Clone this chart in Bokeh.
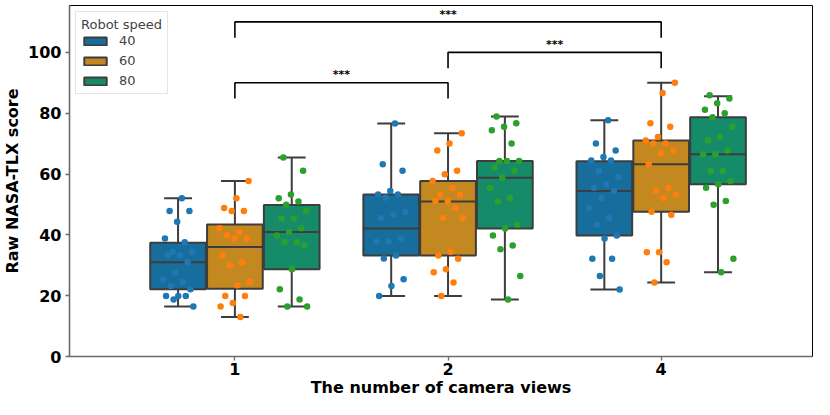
import numpy as np
from bokeh.plotting import figure
from bokeh.models import ColumnDataSource, Range1d, Legend, LegendItem, FixedTicker
from bokeh.embed import file_html
from bokeh.resources import INLINE
from bokeh.core.properties import value

# ---------------- data ----------------
categories = ["1", "2", "4"]           # number of camera views
speeds = ["40", "60", "80"]            # robot speed (hue)

# box statistics, one list per speed, ordered by category
whisker_low_40 = [16.4, 19.9, 22.0]
q1_40 = [22.1, 33.2, 39.8]
median_40 = [31.0, 42.1, 54.4]
q3_40 = [37.4, 53.3, 64.2]
whisker_high_40 = [52.0, 76.6, 77.7]

whisker_low_60 = [13.0, 19.9, 24.3]
q1_60 = [22.3, 33.2, 47.6]
median_60 = [36.0, 51.0, 63.2]
q3_60 = [43.4, 57.7, 71.0]
whisker_high_60 = [57.7, 73.4, 90.0]

whisker_low_80 = [16.4, 18.7, 27.7]
q1_80 = [28.7, 42.1, 56.6]
median_80 = [40.9, 58.8, 66.5]
q3_80 = [49.8, 64.3, 78.7]
whisker_high_80 = [65.4, 78.9, 85.6]

# individual scores (strip plot)
scores_1_40 = [52.0, 47.8, 47.8, 44.3, 38.8, 37.6, 34.4, 34.4, 33.3, 33.3, 31.0,
               27.6, 25.3, 24.5, 23.2, 22.1, 19.9, 19.9, 19.9, 18.7, 16.4]
scores_1_60 = [57.7, 52.0, 48.8, 47.8, 47.8, 42.2, 40.9, 39.8, 38.8, 38.8, 33.2,
               31.0, 29.9, 24.5, 23.4, 19.9, 19.9, 17.6, 16.4, 13.0]
scores_1_80 = [65.4, 61.1, 53.3, 52.0, 51.0, 49.9, 47.8, 45.4, 45.4, 42.2, 40.9,
               39.8, 37.6, 37.6, 36.5, 28.7, 22.1, 18.7, 16.4, 16.4]
scores_2_40 = [76.6, 63.2, 61.1, 54.4, 53.3, 53.3, 52.2, 47.6, 46.7, 45.5, 38.8,
               37.7, 37.7, 33.2, 32.2, 25.4, 23.2, 19.9]
scores_2_60 = [73.4, 70.0, 67.7, 61.1, 59.9, 57.7, 55.4, 53.2, 53.2, 51.1, 51.1,
               48.8, 45.5, 45.5, 34.4, 33.2, 32.1, 28.7, 27.7, 24.3, 19.9]
scores_2_80 = [78.9, 76.7, 75.5, 74.4, 70.0, 64.3, 64.3, 64.3, 62.2, 61.1, 58.8,
               55.4, 52.1, 51.0, 43.3, 42.1, 39.8, 36.5, 35.3, 26.5, 18.7]
scores_4_40 = [77.7, 70.0, 67.7, 65.6, 64.4, 64.4, 61.0, 58.9, 56.6, 55.5, 54.4,
               52.1, 48.8, 45.5, 43.3, 39.8, 38.8, 32.1, 32.1, 26.5, 22.0]
scores_4_60 = [90.0, 86.6, 76.7, 75.5, 72.2, 71.0, 70.0, 70.0, 67.7, 66.7, 63.2,
               55.5, 54.4, 53.3, 52.1, 47.6, 46.6, 34.3, 34.3, 31.0, 24.3]
scores_4_80 = [85.9, 84.8, 83.3, 81.1, 80.0, 78.7, 75.5, 72.2, 71.0, 67.7, 66.5,
               66.5, 61.0, 61.0, 57.7, 56.6, 55.5, 51.1, 49.9, 32.1, 27.7]

# significance annotations: (left category, right category, bracket level, label)
sig_left = ["1", "2", "1"]
sig_right = ["2", "4", "4"]
sig_level = [90, 100, 110]
sig_text = ["***", "***", "***"]

# ---------------- styling ----------------
box_colors = {"40": "#176d9c", "60": "#c38820", "80": "#168b6a"}
point_colors = {"40": "#1f77b4", "60": "#ff7f0e", "80": "#2ca02c"}
edge = "#3d3d3d"
FONT = "DejaVu Sans"

stats = {
    "40": (whisker_low_40, q1_40, median_40, q3_40, whisker_high_40),
    "60": (whisker_low_60, q1_60, median_60, q3_60, whisker_high_60),
    "80": (whisker_low_80, q1_80, median_80, q3_80, whisker_high_80),
}
scores = {
    ("1", "40"): scores_1_40, ("1", "60"): scores_1_60, ("1", "80"): scores_1_80,
    ("2", "40"): scores_2_40, ("2", "60"): scores_2_60, ("2", "80"): scores_2_80,
    ("4", "40"): scores_4_40, ("4", "60"): scores_4_60, ("4", "80"): scores_4_80,
}

group_width = 0.8
slot = group_width / len(speeds)
box_w = slot * 0.98
cap_w = box_w / 2
jitter = 0.075

p = figure(width=814, height=399,
           x_range=Range1d(-0.776, 2.71), y_range=Range1d(0, 115.4),
           output_backend="svg", toolbar_location=None,
           min_border_left=66, min_border_right=2, min_border_top=5, min_border_bottom=40)

p.xgrid.visible = False
p.ygrid.visible = False
p.outline_line_color = "black"
p.outline_line_width = 1
p.background_fill_color = "white"
p.border_fill_color = "white"

cat_pos = {c: i for i, c in enumerate(categories)}
legend_items = []

for k, sp in enumerate(speeds):
    wl, lo, md, hi, wh = stats[sp]
    off = (k - (len(speeds) - 1) / 2) * slot
    xs = [cat_pos[c] + off for c in categories]
    src = ColumnDataSource(dict(x=xs, wl=wl, q1=lo, med=md, q3=hi, wh=wh))
    # whiskers
    p.segment(x0="x", y0="q3", x1="x", y1="wh", source=src, line_color=edge, line_width=2)
    p.segment(x0="x", y0="wl", x1="x", y1="q1", source=src, line_color=edge, line_width=2)
    # caps
    caps = ColumnDataSource(dict(l=[x - cap_w / 2 for x in xs], r=[x + cap_w / 2 for x in xs], wl=wl, wh=wh))
    p.segment(x0="l", y0="wh", x1="r", y1="wh", source=caps, line_color=edge, line_width=2)
    p.segment(x0="l", y0="wl", x1="r", y1="wl", source=caps, line_color=edge, line_width=2)
    # box
    r = p.vbar(x="x", width=box_w, bottom="q1", top="q3", source=src,
               fill_color=box_colors[sp], line_color=edge, line_width=2)
    # median
    med = ColumnDataSource(dict(l=[x - box_w / 2 for x in xs], r=[x + box_w / 2 for x in xs], med=md))
    p.segment(x0="l", y0="med", x1="r", y1="med", source=med, line_color=edge, line_width=2)
    legend_items.append(LegendItem(label=sp, renderers=[r]))

# strip points (deterministic spread instead of random jitter)
for k, sp in enumerate(speeds):
    off = (k - (len(speeds) - 1) / 2) * slot
    px, py = [], []
    for c in categories:
        vals = scores[(c, sp)]
        for i, v in enumerate(vals):
            frac = ((i + 1) * 0.6180339887 + k * 0.31) % 1.0
            px.append(cat_pos[c] + off + (2 * frac - 1) * jitter)
            py.append(v)
    p.scatter(px, py, size=6.5, fill_color=point_colors[sp], line_color=None)

# significance brackets
leg = 5.2
for a, b, lvl, t in zip(sig_left, sig_right, sig_level, sig_text):
    x0, x1 = cat_pos[a], cat_pos[b]
    p.line([x0, x0, x1, x1], [lvl - leg, lvl, lvl, lvl - leg], line_color="black", line_width=1.6)
    p.text(x=[(x0 + x1) / 2], y=[lvl + 2.6], text=[t], text_align="center", text_baseline="middle",
           text_font=value(FONT), text_font_size="11px", text_font_style="bold", text_color="black")

# axes
p.xaxis.ticker = FixedTicker(ticks=list(range(len(categories))))
p.xaxis.major_label_overrides = {i: c for i, c in enumerate(categories)}
p.yaxis.ticker = FixedTicker(ticks=[0, 20, 40, 60, 80, 100])
p.xaxis.axis_label = "The number of camera views"
p.yaxis.axis_label = "Raw NASA-TLX score"
for ax in (p.xaxis[0], p.yaxis[0]):
    ax.axis_line_color = "#6b6b6b"
    ax.axis_line_width = 1.6
    ax.major_tick_line_color = "#6b6b6b"
    ax.major_tick_line_width = 1.3
    ax.major_tick_out = 4
    ax.major_tick_in = 0
    ax.minor_tick_line_color = None
    ax.major_label_text_font = FONT
    ax.major_label_text_font_style = "bold"
    ax.major_label_text_font_size = "16px"
    ax.major_label_text_color = "black"
    ax.axis_label_text_font = FONT
    ax.axis_label_text_font_style = "bold"
    ax.axis_label_text_font_size = "16px"
    ax.axis_label_text_color = "black"
p.yaxis.major_label_standoff = 4
p.yaxis.axis_label_standoff = 3
p.xaxis.major_label_standoff = 2
p.xaxis.axis_label_standoff = 0

legend = Legend(items=legend_items, title="Robot speed", location="top_left")
legend.title_text_font = FONT
legend.title_text_font_size = "13px"
legend.title_text_font_style = "normal"
legend.label_text_font = FONT
legend.label_text_font_size = "13px"
legend.glyph_width = 28
legend.glyph_height = 10
legend.label_height = 14
legend.spacing = 5
legend.padding = 5
legend.margin = 6
legend.label_standoff = 10
legend.title_standoff = 1
legend.border_line_color = "#cccccc"
legend.border_line_width = 1
legend.background_fill_alpha = 0.85
p.add_layout(legend)

open("out.html", "w").write(file_html(p, INLINE))
